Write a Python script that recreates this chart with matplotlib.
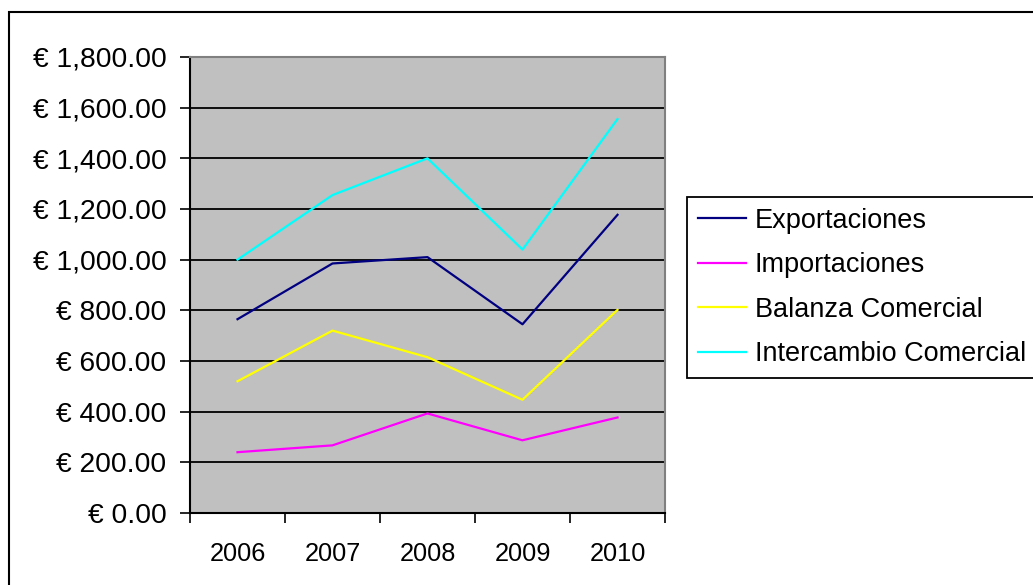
import matplotlib
matplotlib.use('Agg')
import matplotlib.pyplot as plt
import matplotlib.ticker as mticker
from matplotlib.patches import Rectangle
import numpy as np

plt.rcParams['font.family'] = ['Liberation Sans', 'DejaVu Sans']

years = ['2006', '2007', '2008', '2009', '2010']
exportaciones = [765, 985, 1010, 745, 1177]
importaciones = [240, 267, 393, 287, 377]
balanza = [520, 720, 615, 447, 802]
intercambio = [1000, 1255, 1400, 1040, 1555]

series = [
    ('Exportaciones', exportaciones, '#000080'),
    ('Importaciones', importaciones, '#FF00FF'),
    ('Balanza Comercial', balanza, '#FFFF00'),
    ('Intercambio Comercial', intercambio, '#00FFFF'),
]

W, H = 1033, 585
fig = plt.figure(figsize=(W / 100, H / 100), dpi=100)

# outer chart border
fig.patches.append(Rectangle((9 / W, -0.1), 1.2, 1 - 12 / H + 0.1,
                             transform=fig.transFigure, fill=False,
                             edgecolor='black', linewidth=1.5))

ax = fig.add_axes([190 / W, 1 - 513 / H, 475 / W, (513 - 57) / H])
ax.set_facecolor('#C0C0C0')

x = np.arange(len(years)) + 0.5
for name, vals, color in series:
    ax.plot(x, vals, color=color, linewidth=1.6, label=name)

ax.set_xlim(0, len(years))
ax.set_ylim(0, 1800)
ax.yaxis.set_major_locator(mticker.MultipleLocator(200))
ax.yaxis.set_major_formatter(mticker.FuncFormatter(lambda v, p: f'€ {v:,.2f}'))
ax.grid(axis='y', color='black', linewidth=1.3)
ax.set_axisbelow(True)

ax.set_xticks(np.arange(len(years) + 1))
ax.set_xticklabels([])
ax.set_xticks(x, minor=True)
ax.set_xticklabels(years, minor=True)
ax.tick_params(axis='x', which='major', direction='out', length=7, width=1.2, color='black')
ax.tick_params(axis='x', which='minor', length=0, pad=21, labelsize=18.3)
ax.tick_params(axis='y', direction='out', length=7, width=1.2, pad=10, labelsize=20.3)

for side in ['left', 'bottom']:
    ax.spines[side].set_color('black')
    ax.spines[side].set_linewidth(1.5)
for side in ['top', 'right']:
    ax.spines[side].set_color('#808080')
    ax.spines[side].set_linewidth(1.5)

leg = ax.legend(loc='upper left', bbox_to_anchor=(687 / W, 1 - 197 / H),
                bbox_transform=fig.transFigure, fontsize=19.5, frameon=True,
                fancybox=False, borderpad=0.4, labelspacing=0.68,
                handlelength=1.77, handletextpad=0.33, borderaxespad=0)
leg.get_frame().set_edgecolor('black')
leg.get_frame().set_linewidth(1.3)
leg.get_frame().set_alpha(1)

plt.savefig('out.png', dpi=100)
plt.close()
